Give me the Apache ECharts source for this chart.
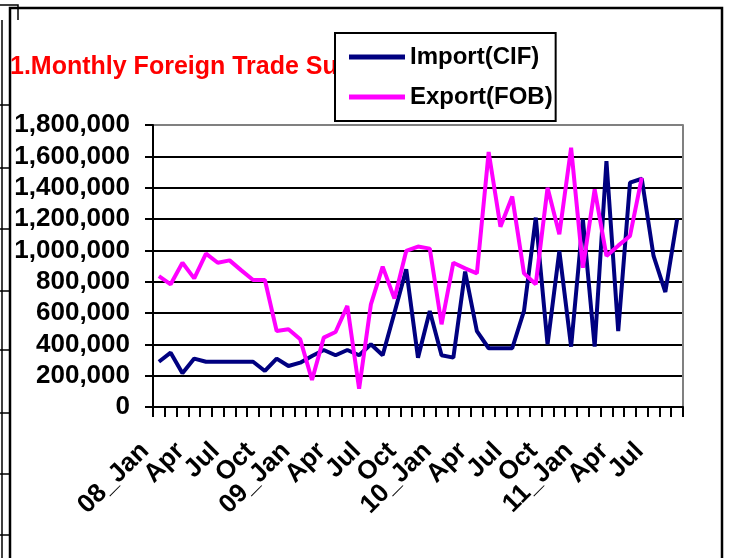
<!DOCTYPE html>
<html>
<head>
<meta charset="utf-8">
<script src="https://cdn.jsdelivr.net/npm/echarts@6/dist/echarts.min.js"></script>
<style>
html,body{margin:0;padding:0;background:#fff;}
#chart{width:733px;height:558px;}
</style>
</head>
<body>
<div id="chart"></div>
<script>
const titleText = "1.Monthly Foreign Trade Su";
const seriesNames = ["Import(CIF)", "Export(FOB)"];
const months = ["Jan","Feb","Mar","Apr","May","Jun","Jul","Aug","Sep","Oct","Nov","Dec"];
const years = ["08","09","10","11"];
const monthCount = 45;
const categories = [];
for (let i = 0; i < monthCount; i++) {
  const m = i % 12, y = Math.floor(i / 12);
  categories.push(m === 0 ? years[y] + "_" + months[m] : months[m]);
}
const importValues = [
  289000, 347000, 215000, 309000, 289000, 289000, 289000, 289000, 289000, 230000, 309000, 262000,
  283000, 326000, 364000, 330000, 364000, 330000, 400000, 330000, 602000, 879000, 315000, 613000,
  330000, 315000, 864000, 485000, 375000, 375000, 375000, 613000, 1209000, 400000, 996000, 385000,
  1198000, 385000, 1570000, 485000, 1432000, 1457000, 964000, 734000, 1198000
];
const exportValues = [
  836000, 783000, 921000, 821000, 979000, 921000, 936000, 872000, 811000, 811000, 485000, 496000,
  432000, 172000, 443000, 479000, 645000, 117000, 655000, 896000, 692000, 996000, 1024000, 1011000,
  528000, 921000, 885000, 853000, 1628000, 1151000, 1343000, 853000, 783000, 1400000, 1102000, 1655000,
  889000, 1389000, 964000, 1030000, 1092000, 1464000, null, null, null
];
const yMin = 0, yMax = 1800000, yStep = 200000;
const labelEvery = 3;

const fontFam = '"Liberation Sans", Arial, sans-serif';
const chart = echarts.init(document.getElementById('chart'), null, {renderer: 'canvas'});
const gridColors = [];
for (let v = yMin; v <= yMax; v += yStep) gridColors.push(v === yMax ? '#808080' : '#000000');

chart.setOption({
  animation: false,
  backgroundColor: '#ffffff',
  title: {
    text: titleText,
    left: 10, top: 53, padding: 0,
    textStyle: {color: '#ff0000', fontSize: 25, fontWeight: 'bold', fontFamily: fontFam, lineHeight: 28}
  },
  legend: {
    orient: 'vertical',
    left: 335, top: 33,
    padding: [9, 3, 9, 14],
    itemGap: 10,
    itemWidth: 56, itemHeight: 5,
    backgroundColor: '#ffffff',
    borderColor: '#000000', borderWidth: 2,
    z: 10,
    data: [
      {name: seriesNames[0], icon: 'rect'},
      {name: seriesNames[1], icon: 'rect'}
    ],
    textStyle: {color: '#000', fontSize: 24, fontWeight: 'bold', fontFamily: fontFam, lineHeight: 30}
  },
  grid: [
    {left: 153, right: 50, top: 125, bottom: 151, containLabel: false},
    {left: 139, right: 64, top: 125, bottom: 151, containLabel: false}
  ],
  xAxis: [{
    type: 'category',
    gridIndex: 0,
    data: categories,
    boundaryGap: true,
    axisLine: {lineStyle: {color: '#000', width: 2}},
    axisTick: {show: true, interval: 0, length: 10, lineStyle: {color: '#000', width: 2}},
    axisLabel: {show: false},
    splitLine: {show: false}
  }, {
    type: 'category',
    gridIndex: 1,
    data: categories,
    boundaryGap: true,
    axisLine: {show: false},
    axisTick: {show: false},
    axisLabel: {
      interval: 0, rotate: 45, margin: 40, hideOverlap: false,
      formatter: (v, i) => (i % labelEvery === 0 ? v : ''),
      color: '#000', fontSize: 26, lineHeight: 22, fontWeight: 'bold', fontFamily: fontFam
    },
    splitLine: {show: false}
  }],
  yAxis: [{
    type: 'value',
    gridIndex: 0,
    min: yMin, max: yMax, interval: yStep,
    axisLine: {show: true, lineStyle: {color: '#000', width: 2}},
    axisTick: {show: true, length: 8, lineStyle: {color: '#000', width: 2}},
    axisLabel: {
      margin: 23, color: '#000', fontSize: 26, fontWeight: 'bold', fontFamily: fontFam,
      formatter: v => v.toLocaleString('en-US')
    },
    splitLine: {show: true, lineStyle: {color: gridColors, width: 2}}
  }, {
    type: 'value',
    gridIndex: 0,
    position: 'right',
    min: yMin, max: yMax, interval: yStep,
    axisLine: {show: true, lineStyle: {color: '#808080', width: 2}},
    axisTick: {show: false}, axisLabel: {show: false}, splitLine: {show: false}
  }, {
    type: 'value',
    gridIndex: 1,
    show: false,
    min: yMin, max: yMax
  }],
  series: [
    {
      name: seriesNames[0], type: 'line', data: importValues,
      xAxisIndex: 0, yAxisIndex: 0, symbol: 'none', color: '#000080',
      lineStyle: {color: '#000080', width: 4}, z: 3
    },
    {
      name: seriesNames[1], type: 'line', data: exportValues,
      xAxisIndex: 0, yAxisIndex: 0, symbol: 'none', color: '#ff00ff',
      lineStyle: {color: '#ff00ff', width: 4}, z: 4
    }
  ],
  graphic: [
    {type: 'rect', shape: {x: 10, y: 8, width: 712, height: 560}, style: {fill: null, stroke: '#000', lineWidth: 2.5}, z: 0, silent: true},
    {type: 'line', shape: {x1: 2, y1: 20, x2: 2, y2: 558}, style: {stroke: '#000', lineWidth: 1.5}, silent: true},
    {type: 'line', shape: {x1: 0, y1: 105, x2: 10, y2: 105}, style: {stroke: '#000', lineWidth: 1.5}, silent: true},
    {type: 'line', shape: {x1: 0, y1: 168, x2: 10, y2: 168}, style: {stroke: '#000', lineWidth: 1.5}, silent: true},
    {type: 'line', shape: {x1: 0, y1: 229, x2: 10, y2: 229}, style: {stroke: '#000', lineWidth: 1.5}, silent: true},
    {type: 'line', shape: {x1: 0, y1: 291, x2: 10, y2: 291}, style: {stroke: '#000', lineWidth: 1.5}, silent: true},
    {type: 'line', shape: {x1: 0, y1: 350, x2: 10, y2: 350}, style: {stroke: '#000', lineWidth: 1.5}, silent: true},
    {type: 'line', shape: {x1: 0, y1: 413, x2: 10, y2: 413}, style: {stroke: '#000', lineWidth: 1.5}, silent: true},
    {type: 'line', shape: {x1: 0, y1: 474, x2: 10, y2: 474}, style: {stroke: '#000', lineWidth: 1.5}, silent: true},
    {type: 'line', shape: {x1: 0, y1: 535, x2: 10, y2: 535}, style: {stroke: '#000', lineWidth: 1.5}, silent: true},
    {type: 'polyline', shape: {points: [[0, 5], [18, 5], [18, 20]]}, style: {stroke: '#000', fill: null, lineWidth: 1.5}, silent: true}
  ]
});
</script>
</body>
</html>
